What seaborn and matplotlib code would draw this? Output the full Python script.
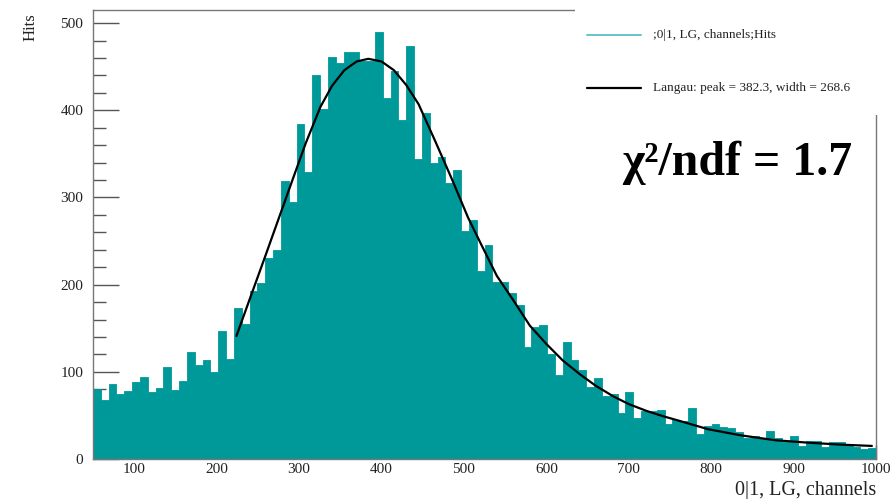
import numpy as np
import pandas as pd
import matplotlib
matplotlib.use("Agg")
import matplotlib.pyplot as plt
from matplotlib.ticker import MultipleLocator
from matplotlib.lines import Line2D
from matplotlib.patches import Rectangle
import seaborn as sns

# ---------------- data ----------------
x_min, x_max, bin_width = 50, 1000, 9.5
counts = [80, 68, 86, 74, 78, 88, 94, 77, 82, 106,
          79, 90, 123, 108, 113, 100, 147, 115, 173, 155,
          193, 202, 230, 240, 319, 295, 384, 329, 440, 401,
          461, 454, 467, 467, 457, 457, 490, 414, 445, 389,
          474, 344, 397, 339, 346, 316, 332, 261, 274, 216,
          246, 203, 203, 190, 177, 128, 151, 154, 120, 96,
          134, 113, 102, 83, 93, 72, 74, 53, 77, 47,
          55, 55, 56, 40, 45, 44, 58, 29, 38, 40,
          37, 35, 31, 24, 26, 24, 32, 24, 19, 26,
          15, 21, 21, 14, 19, 19, 16, 14, 11, 13]

fit_x = [224, 240, 258, 275, 292, 308, 326, 340, 355, 370, 384, 400,
         415, 430, 445, 465, 485, 505, 520, 540, 560, 580, 600, 620,
         641, 660, 681, 700, 722, 742, 762, 797, 837, 878, 918, 959, 995]
fit_y = [141, 183, 230, 275, 320, 362, 404, 428, 446, 456, 459, 456,
         446, 429, 407, 365, 322, 277, 248, 210, 182, 153, 132, 113,
         97, 84, 72, 63, 55, 49, 43.6, 34, 27, 21.5, 18.7, 16.4, 15]

y_ticks = [0, 100, 200, 300, 400, 500]
x_ticks = [100, 200, 300, 400, 500, 600, 700, 800, 900, 1000]

hist_label = ";0|1, LG, channels;Hits"
fit_label = "Langau: peak = 382.3, width = 268.6"
chi_text = "\u03c7\u00b2/ndf = 1.7"
x_title = "0|1, LG, channels"
y_title = "Hits"

TEAL = "#009999"
LEG_TEAL = "#5cbdbd"

# ---------------- style ----------------
sns.set_style("ticks")
plt.rcParams['font.family'] = ['Liberation Serif', 'DejaVu Serif']

W, H = 892, 499
fig = plt.figure(figsize=(W / 100, H / 100), dpi=100)
L, R, B, T = 93, 876, 459, 10
ax = fig.add_axes([L / W, 1 - B / H, (R - L) / W, (B - T) / H])

centers = x_min + bin_width * (np.arange(len(counts)) + 0.5)
df = pd.DataFrame({"channel": centers, "hits": counts})
sns.histplot(data=df, x="channel", weights="hits", binwidth=bin_width,
             binrange=(x_min, x_max), element="step", fill=True,
             color=TEAL, alpha=1, linewidth=0.6, ax=ax)
sns.lineplot(x=fit_x, y=fit_y, color="black", linewidth=1.6, ax=ax)

ax.set_xlim(x_min, x_max)
ax.set_ylim(0, 515)
ax.set_xlabel("")
ax.set_ylabel("")
ax.set_xticks(x_ticks)
ax.set_yticks(y_ticks)
ax.xaxis.set_minor_locator(MultipleLocator(20))
ax.yaxis.set_minor_locator(MultipleLocator(20))
ax.tick_params(axis="both", which="both", direction="in", color="#555555",
               width=1, labelsize=11, labelcolor="#222222")
ax.tick_params(axis="x", which="major", length=10, pad=3)
ax.tick_params(axis="x", which="minor", length=5)
ax.tick_params(axis="y", which="major", length=19, pad=7)
ax.tick_params(axis="y", which="minor", length=9.5)
for s in ax.spines.values():
    s.set_color("#777777")
    s.set_linewidth(1)

# legend pave (white box covering the frame in the top-right)
fig.patches.append(Rectangle((575 / W, 1 - 115 / H), 1, 1, transform=fig.transFigure,
                             facecolor="white", edgecolor="none", zorder=5))
fig.lines.append(Line2D([587 / W, 641 / W], [1 - 35 / H, 1 - 35 / H], transform=fig.transFigure,
                        color=LEG_TEAL, linewidth=1.3, zorder=6))
fig.lines.append(Line2D([587 / W, 641 / W], [1 - 88 / H, 1 - 88 / H], transform=fig.transFigure,
                        color="black", linewidth=1.6, zorder=6))
fig.text(653 / W, 1 - 35 / H, hist_label, ha="left", va="center", fontsize=9.5,
         color="#222222", zorder=7)
fig.text(653 / W, 1 - 88 / H, fit_label, ha="left", va="center", fontsize=9.5,
         color="#222222", zorder=7)

fig.text(737 / W, 1 - 175 / H, chi_text, ha="center", va="baseline", fontsize=34.5,
         fontweight="bold", color="black", zorder=7)

fig.text(31 / W, 1 - 27 / H, y_title, rotation=90, ha="center", va="center",
         fontsize=12, color="#222222")
fig.text(876 / W, 1 - 495 / H, x_title, ha="right", va="baseline",
         fontsize=14.5, color="#222222")

fig.savefig("out.png", dpi=100)
